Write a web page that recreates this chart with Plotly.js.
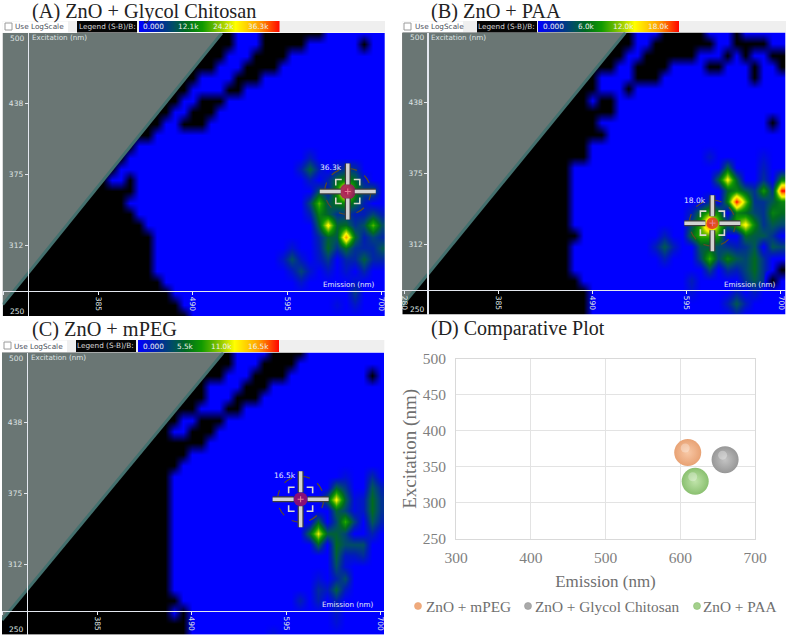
<!DOCTYPE html>
<html><head><meta charset="utf-8">
<script src="https://cdn.plot.ly/plotly-3.0.1.min.js"></script>
<style>html,body{margin:0;padding:0;background:#fff}#c{width:787px;height:637px}</style>
</head><body><div id="c"></div>
<script>
// ---------- data ----------
const emissionNm = [280,290,300,310,320,330,340,350,360,370,380,390,400,410,420,430,440,450,460,470,480,490,500,510,520,530,540,550,560,570,580,590,600,610,620,630,640,650,660,670,680,690,700];
const excitationNm = [500,490,480,470,460,450,440,430,420,410,400,390,380,370,360,350,340,330,320,310,300,290,280,270,260,250];
const xTicks = [280,385,490,595,700];
const yTicks = [438,375,312];

// column runs with no signal, row by row from excitation 500 downward
const darkA = [[[0,25],[29,35]],[[0,25],[29,33],[40,40]],[[0,24],[28,31]],[[0,23],[27,30]],[[0,21],[26,28]],[[0,20],[25,26]],[[0,19],[22,24]],[[0,18],[21,23]],[[0,17],[20,22]],[[0,16]],[[0,14]],[[0,13]],[[0,12]],[[0,11],[14,14]],[[0,14]],[[0,13]],[[0,14]],[[0,15]],[[0,16]],[[0,16]],[[0,16]],[[0,16]],[[0,17]],[[0,18]],[[0,19]],[[0,20]]];
const darkB = [[[0,25],[29,33],[37,37]],[[0,25],[28,34],[37,40]],[[0,24],[27,32],[36,36],[38,38],[41,42]],[[0,23],[26,29],[34,35],[39,39],[42,42]],[[0,21],[26,28],[39,39]],[[0,21],[25,25]],[[0,20],[22,23]],[[0,23]],[[0,21],[41,41]],[[0,22]],[[0,20]],[[0,20]],[[0,18]],[[0,18]],[[0,18]],[[0,18]],[[0,18]],[[0,18]],[[0,19]],[[0,18]],[[0,18]],[[0,18],[42,42]],[[0,19],[41,41]],[[0,20]],[[0,20]],[[0,20]]];
const darkC = [[[0,25],[30,33]],[[0,25],[29,32]],[[0,24],[28,31],[41,41]],[[0,22],[27,29]],[[0,22],[26,28]],[[0,21],[25,26]],[[0,19],[22,24]],[[0,18],[21,23]],[[0,22]],[[0,20]],[[0,19]],[[0,18]],[[0,18]],[[0,18]],[[0,18]],[[0,18]],[[0,18]],[[0,18]],[[0,18]],[[0,18]],[[0,18]],[[0,18]],[[0,19]],[[0,18],[20,20]],[[0,20]],[[0,20]]];

// [row, column, signal in thousands]
const peaksA = [[14,38,36.3],[13,38,15],[15,38,15],[14,37,16],[14,39,15],[13,37,12],[13,39,12],[15,37,13],[15,39,11],[12,38,7],[12,37,4],[12,39,6],[13,36,5],[15,36,9],[16,37,6],[16,38,7],[16,39,4],[14,40,8],[14,41,10],[13,40,4],[15,40,4],
 [12,34,11],[11,34,4],[13,34,4],[12,33,4],[12,35,4],[15,35,19],[14,35,9],[15,34,8],[16,35,14],[16,34,4],[14,36,4],
 [17,36,26],[16,36,11],[18,36,11],[17,35,11],[17,37,11],[18,35,5],[18,37,10],[19,36,12],[20,36,7],[21,36,3],[19,35,4],[20,35,3],
 [18,38,31],[17,38,12],[19,38,12],[18,39,12],[19,37,6],[19,39,6],[17,39,6],[20,38,5],[21,38,3],
 [17,41,19],[16,41,8],[18,41,8],[17,40,9],[17,42,9],[16,40,4],[18,40,4],[16,42,4],[18,42,4],[19,42,10],[18,42,5],[20,42,5],[19,41,5],
 [20,40,11],[19,40,5],[21,40,5],[20,39,5],[20,41,5],[20,32,9],[19,32,3],[21,32,3],[20,31,3],[20,33,3],[21,33,8],[22,33,3],[21,34,3],[23,39,7],[22,39,3],[24,39,3],[24,37,2]];
const peaksB = [[17,34,18],[16,34,9],[18,34,9],[17,33,9],[17,35,10],[16,33,6],[16,35,7],[18,33,9],[18,35,8],[15,34,3],[19,33,5],[19,34,5],[19,35,4],[17,32,4],[16,32,2],[18,32,6],[17,36,5],
 [13,36,12.6],[12,36,5.5],[14,36,5.5],[13,35,5.5],[13,37,5.5],[14,40,8],[13,40,3],[15,40,3],[14,39,3],[14,41,3],[14,42,18],[13,42,7],[15,42,7],
 [15,37,18],[14,37,7],[16,37,7],[15,36,7],[15,38,10],[14,38,5],[16,38,6],[15,39,3],
 [17,38,12.8],[18,38,6],[17,37,9],[17,39,7],[16,41,7],[16,42,6],[15,41,5],[17,41,5],[17,42,4],[18,40,5],[18,41,3],[19,41,5],[19,42,4],[16,39,4],[16,40,3],[17,40,3],[18,39,5],
 [19,29,5],[18,29,2],[20,29,2],[19,28,2],[19,30,2],[20,34,9],[21,34,4],[20,33,4],[20,35,4],[20,36,7],[19,36,3],[21,36,3],[20,37,5],[19,37,2],[21,37,2],
 [19,38,3],[19,39,5],[20,38,4],[20,39,6],[21,38,4],[21,39,6],[21,40,3],[22,38,3],[22,39,5],[22,40,3],[23,39,2],[20,40,3],[24,37,5],[23,37,2],[25,37,2],[24,36,2],[24,38,2],[22,32,2],[23,32,1.2],[11,34,1.5],[12,40,2],[11,40,1]];
const peaksC = [[13,33,2.2],[13,37,11.5],[12,37,5],[14,37,5],[13,36,5],[13,38,5],[15,38,8],[14,38,3.5],[16,38,3.5],[15,37,3.5],[15,39,3.5],[16,35,11],[15,35,5],[17,35,5],[16,34,5],[16,36,5],
 [11,41,2.5],[12,41,4.5],[13,41,5.5],[14,41,5.5],[15,41,4.5],[16,41,2],[12,42,2],[13,42,2.8],[14,42,2.8],[15,42,2],[13,40,1.5],[14,40,1.5],[12,38,3],[11,38,1],
 [16,37,5],[17,37,5.5],[18,37,5],[19,37,4],[17,38,4],[17,39,4],[17,40,4],[18,40,2.5],[18,38,1.5],[18,39,1.5],[21,37,5],[21,36,1.5],[22,37,2],[20,37,2],[20,38,4],[21,38,1.5],[21,35,2.5],[20,35,1],[22,35,2],[22,33,2],[23,37,1.5],[24,37,1],[25,30,1],[13,39,0.8],[14,39,0.8],[19,38,1]];

const legendFractions = [0,0.12,0.25,0.33,0.45,0.58,0.68,0.85,1];
const legendLabelsA = ['0.000','12.1k','24.2k','36.3k'];
const legendLabelsB = ['0.000','6.0k','12.0k','18.0k'];
const legendLabelsC = ['0.000','5.5k','11.0k','16.5k'];

const seriesNames = ['ZnO + mPEG','ZnO + Glycol Chitosan','ZnO + PAA'];
const seriesEmission = [610,660,620];
const seriesExcitation = [370,360,330];

// ---------- page geometry ----------
const W = 787, H = 637;
const px = x => x / W, py = y => 1 - y / H;
const panels = [
 {id:'A',key:['x','y'],left:2.7,right:385,top:33,bottom:316,xr:[278.8,703.9],axisX:27.7,axisY:291,dark:darkA,peaks:peaksA,max:36.3,labels:legendLabelsA,cursor:[662.5,360],dot:'#a01066',dotR:8,tag:'36.3k',tagX:331,tagY:167,
  strip:{top:21,bottom:32.5,white:68,chkL:4,txt:39,blackL:77,blackR:137,barL:139,barR:279.5},lab:[153,188,223,258],title:'(A) ZnO + Glycol Chitosan',titleX:31.5,titleY:11,ramp:['x5','y5'],mask:[522.5,260]},
 {id:'B',key:['x2','y2'],left:402.3,right:786,top:32.5,bottom:314.5,xr:[277.7,705.6],axisX:427.3,axisY:290,dark:darkB,peaks:peaksB,max:18,labels:legendLabelsB,cursor:[623.5,331],dot:'#e03a28',dotR:6,tag:'18.0k',tagX:695,tagY:200,
  strip:{top:21,bottom:32.5,white:463,chkL:403,txt:439,blackL:477,blackR:537,barL:538,barR:679},lab:[553,586,623,658],title:'(B) ZnO + PAA',titleX:431,titleY:11,ramp:['x6','y6'],mask:[526.5,258]},
 {id:'C',key:['x3','y3'],left:2,right:384.3,top:352.5,bottom:634.7,xr:[279,704],axisX:26.7,axisY:610.7,dark:darkC,peaks:peaksC,max:16.5,labels:legendLabelsC,cursor:[611,370],dot:'#a01066',dotR:7,tag:'16.5k',tagX:285,tagY:475,
  strip:{top:340,bottom:352,white:67,chkL:3,txt:38,blackL:76,blackR:136,barL:138,barR:279},lab:[153,185,222,258],title:'(C) ZnO + mPEG',titleX:31.5,titleY:329,ramp:['x7','y7'],mask:[525,263]}
];

const colorStops = ['#0000ff','#0020b0','#005060','#006a20','#109a00','#90c800','#ffff00','#ffa000','#ff0000'];
const colorscale = [[0,'#000000']].concat(legendFractions.map((f,i)=>[(1+f)/2,colorStops[i]]));

const traces = [], shapes = [], annotations = [];
const layout = {width:W,height:H,margin:{l:0,r:0,t:0,b:0},paper_bgcolor:'#fff',plot_bgcolor:'rgba(0,0,0,0)',showlegend:false,shapes,annotations};

function txt(x,y,text,size,color,anchor,family,angle){
  annotations.push({xref:'paper',yref:'paper',x:px(x),y:py(y),text,showarrow:false,xanchor:anchor||'center',yanchor:'middle',
    font:{size,color,family:family||'DejaVu Sans'},textangle:angle||0,borderpad:0,borderwidth:0});
}
function rect(x0,y0,x1,y1,fill,line){
  shapes.push({type:'rect',layer:'below',xref:'paper',yref:'paper',x0:px(x0),x1:px(x1),y0:py(y0),y1:py(y1),fillcolor:fill,line:{width:line?1:0,color:line||fill}});
}
function cursorShapes(p){
  const [xr,yr]=p.key, [ax,ay]=p.cursor, d=p.dotR;
  const base={xref:xr,yref:yr,xsizemode:'pixel',ysizemode:'pixel',xanchor:ax,yanchor:ay};
  shapes.push({...base,type:'circle',x0:-d,x1:d,y0:-d,y1:d,fillcolor:p.dot,opacity:.85,line:{width:0}});
  shapes.push({...base,type:'circle',x0:-23,x1:23,y0:-23,y1:23,line:{width:1.2,color:'#5a4a25',dash:'dash'}});
  [[-3,0,3,0],[0,-3,0,3]].forEach(s=>shapes.push({...base,type:'line',x0:s[0],y0:s[1],x1:s[2],y1:s[3],line:{width:1,color:'#e88098'}}));
  [[-12,-6,-12,-12,-6,-12],[12,-6,12,-12,6,-12],[-12,6,-12,12,-6,12],[12,6,12,12,6,12]].forEach(s=>{
    shapes.push({...base,type:'path',path:`M ${s[0]} ${s[1]} L ${s[2]} ${s[3]} L ${s[4]} ${s[5]}`,line:{width:1.6,color:'#d9d9cf'}});
  });
  [[-28,0,-7,0],[7,0,28,0],[0,-28,0,-7],[0,7,0,28]].forEach(s=>{
    shapes.push({...base,type:'line',x0:s[0],y0:s[1],x1:s[2],y1:s[3],line:{width:6,color:'#3c3c3c'}});
    shapes.push({...base,type:'line',x0:s[0],y0:s[1],x1:s[2],y1:s[3],line:{width:3.5,color:'#d2d2d2'}});
  });
}

panels.forEach(p=>{
  const rows = excitationNm.map((_,r)=>{
    const row = emissionNm.map(()=>0);
    p.dark[r].forEach(run=>{for(let c=run[0];c<=run[1];c++) row[c]=-p.max;});
    return row;
  });
  p.peaks.forEach(k=>{rows[k[0]][k[1]]=Math.max(rows[k[0]][k[1]],k[2]);});
  const [xn,yn]=p.key;
  traces.push({type:'heatmap',x:emissionNm,y:excitationNm.slice().reverse(),z:rows.slice().reverse(),xaxis:xn,yaxis:yn,zmin:-p.max,zmax:p.max,zsmooth:'best',colorscale,showscale:false,hoverinfo:'skip'});
  traces.push({type:'scatter',mode:'lines',xaxis:xn,yaxis:yn,x:[p.mask[0],p.xr[0],p.xr[0],p.mask[0]],y:[500,p.mask[1],500,500],fill:'toself',fillcolor:'#6a7674',line:{width:0,color:'#6a7674'},hoverinfo:'skip'});
  traces.push({type:'scatter',mode:'lines',xaxis:xn,yaxis:yn,x:[p.mask[0],p.xr[0]],y:[500,p.mask[1]],line:{width:3,color:'#44706e'},hoverinfo:'skip'});

  const axFont={size:7.5,color:'#dfe3e3',family:'DejaVu Sans'};
  const n=xn.slice(1), m=yn.slice(1);
  layout['xaxis'+n]={domain:[px(p.left),px(p.right)],range:p.xr,anchor:'free',position:py(p.axisY),showgrid:false,zeroline:false,showline:true,linecolor:'#e4e8f0',linewidth:1.2,ticks:'outside',ticklen:3,tickcolor:'#e4e8f0',tickmode:'array',tickvals:xTicks,ticktext:xTicks.map(String),tickangle:90,tickfont:axFont,layer:'above traces'};
  layout['yaxis'+m]={domain:[py(p.bottom),py(p.top)],range:[250,500],anchor:'free',position:px(p.axisX),showgrid:false,zeroline:false,showline:true,linecolor:'#e4e8f0',linewidth:1.2,ticks:'outside',ticklen:3,tickcolor:'#e4e8f0',tickmode:'array',tickvals:yTicks,ticktext:yTicks.map(String),tickfont:axFont,layer:'above traces'};

  txt(p.axisX-10,p.top+5.5,'500',7.5,'#dfe3e3');
  txt(p.axisX-10,p.bottom-5,'250',7.5,'#dfe3e3');
  txt(p.axisX+4,p.top+5,'Excitation (nm)',7.2,'#dfe3e3','left');
  txt(p.right-36,p.axisY-6,'Emission (nm)',7.2,'#e8ecf4');
  txt(p.tagX,p.tagY,p.tag,7.5,'#e8e8ff');
  cursorShapes(p);

  const s=p.strip;
  rect(p.left,s.top,p.right,s.bottom,'#efefef');
  rect(p.left,s.top+.5,s.white,s.bottom,'#ffffff');
  rect(s.chkL+1,s.top+2,s.chkL+8,s.top+9,'#ffffff','#9a9a9a');
  txt(s.txt,s.top+6,'Use LogScale',7.3,'#4a4f5a');
  rect(s.blackL,s.top,s.blackR,s.bottom,'#050505');
  txt((s.blackL+s.blackR)/2,s.top+5.5,'Legend (S-B)/B:',7.3,'#d8d8d8');
  // legend colour ramp
  const [rx,ry]=p.ramp;
  const rn=rx.slice(1), rm=ry.slice(1);
  traces.push({type:'heatmap',xaxis:rx,yaxis:ry,x:legendFractions,y:[0,1],z:[legendFractions.map(f=>f*p.max),legendFractions.map(f=>f*p.max)],zmin:-p.max,zmax:p.max,zsmooth:'best',colorscale,showscale:false,hoverinfo:'skip'});
  layout['xaxis'+rn]={domain:[px(s.barL),px(s.barR)],range:[0,1],visible:false,anchor:ry};
  layout['yaxis'+rm]={domain:[py(s.bottom),py(s.top)],range:[0,1],visible:false,anchor:rx};
  p.labels.forEach((t,i)=>txt(p.lab[i],s.top+6,t,7.3,'#eef0f0'));
  txt(p.titleX,p.titleY,p.title,20.3,'#222','left','Liberation Serif');
});

// ---------- comparative panel ----------
const bubbleCentres=['#f8c8a6','#c4c4c4','#c0e4aa'];
const bubbleEdges=['#e8a274','#979797','#8ac070'];
const legendDots=['#f0aa7c','#aaaaaa','#a4d08c'];
seriesNames.forEach((name,i)=>{
  traces.push({type:'scatter',mode:'markers',name,xaxis:'x4',yaxis:'y4',x:[seriesEmission[i]],y:[seriesExcitation[i]],
    marker:{size:27,color:bubbleEdges[i],gradient:{type:'radial',color:bubbleCentres[i]},line:{width:0}},hoverinfo:'name'});
  shapes.push({type:'circle',xref:'x4',yref:'y4',xsizemode:'pixel',ysizemode:'pixel',xanchor:seriesEmission[i],yanchor:seriesExcitation[i],x0:-7,x1:2,y0:0,y1:9,fillcolor:'#ffffff',opacity:.3,line:{width:0}});
});
const dFont={family:'Liberation Serif',size:15.5,color:'#7f7f7f'};
layout.xaxis4={domain:[px(456),px(755)],range:[300,700],anchor:'y4',tickmode:'array',tickvals:[300,400,500,600,700],showgrid:true,gridcolor:'#e3e3e3',gridwidth:1,zeroline:false,showline:true,linecolor:'#d9d9d9',mirror:true,ticks:'',ticklabelstandoff:4,tickfont:dFont,title:{text:'Emission (nm)',font:{family:'Liberation Serif',size:17,color:'#6f6f6f'},standoff:10}};
layout.yaxis4={domain:[py(539),py(358.7)],range:[250,500],anchor:'x4',tickmode:'array',tickvals:[250,300,350,400,450,500],showgrid:true,gridcolor:'#e3e3e3',gridwidth:1,zeroline:false,showline:true,linecolor:'#d9d9d9',mirror:true,ticks:'',ticklabelstandoff:6,tickfont:dFont,title:{text:'Excitation (nm)',font:{family:'Liberation Serif',size:19,color:'#6f6f6f'},standoff:0}};
txt(431,328,'(D) Comparative Plot',20,'#222','left','Liberation Serif');

const legendMarkX=[418,528,697], legendTextX=[426,535,703];
seriesNames.forEach((name,i)=>{
  shapes.push({type:'circle',xref:'paper',yref:'paper',x0:px(legendMarkX[i]-3.5),x1:px(legendMarkX[i]+3.5),y0:py(606+3.5),y1:py(606-3.5),fillcolor:legendDots[i],line:{width:.6,color:bubbleEdges[i]}});
  txt(legendTextX[i],606,name,15.3,'#6f6f6f','left','Liberation Serif');
});

Plotly.newPlot('c',traces,layout,{displayModeBar:false,staticPlot:true});
</script></body></html>
